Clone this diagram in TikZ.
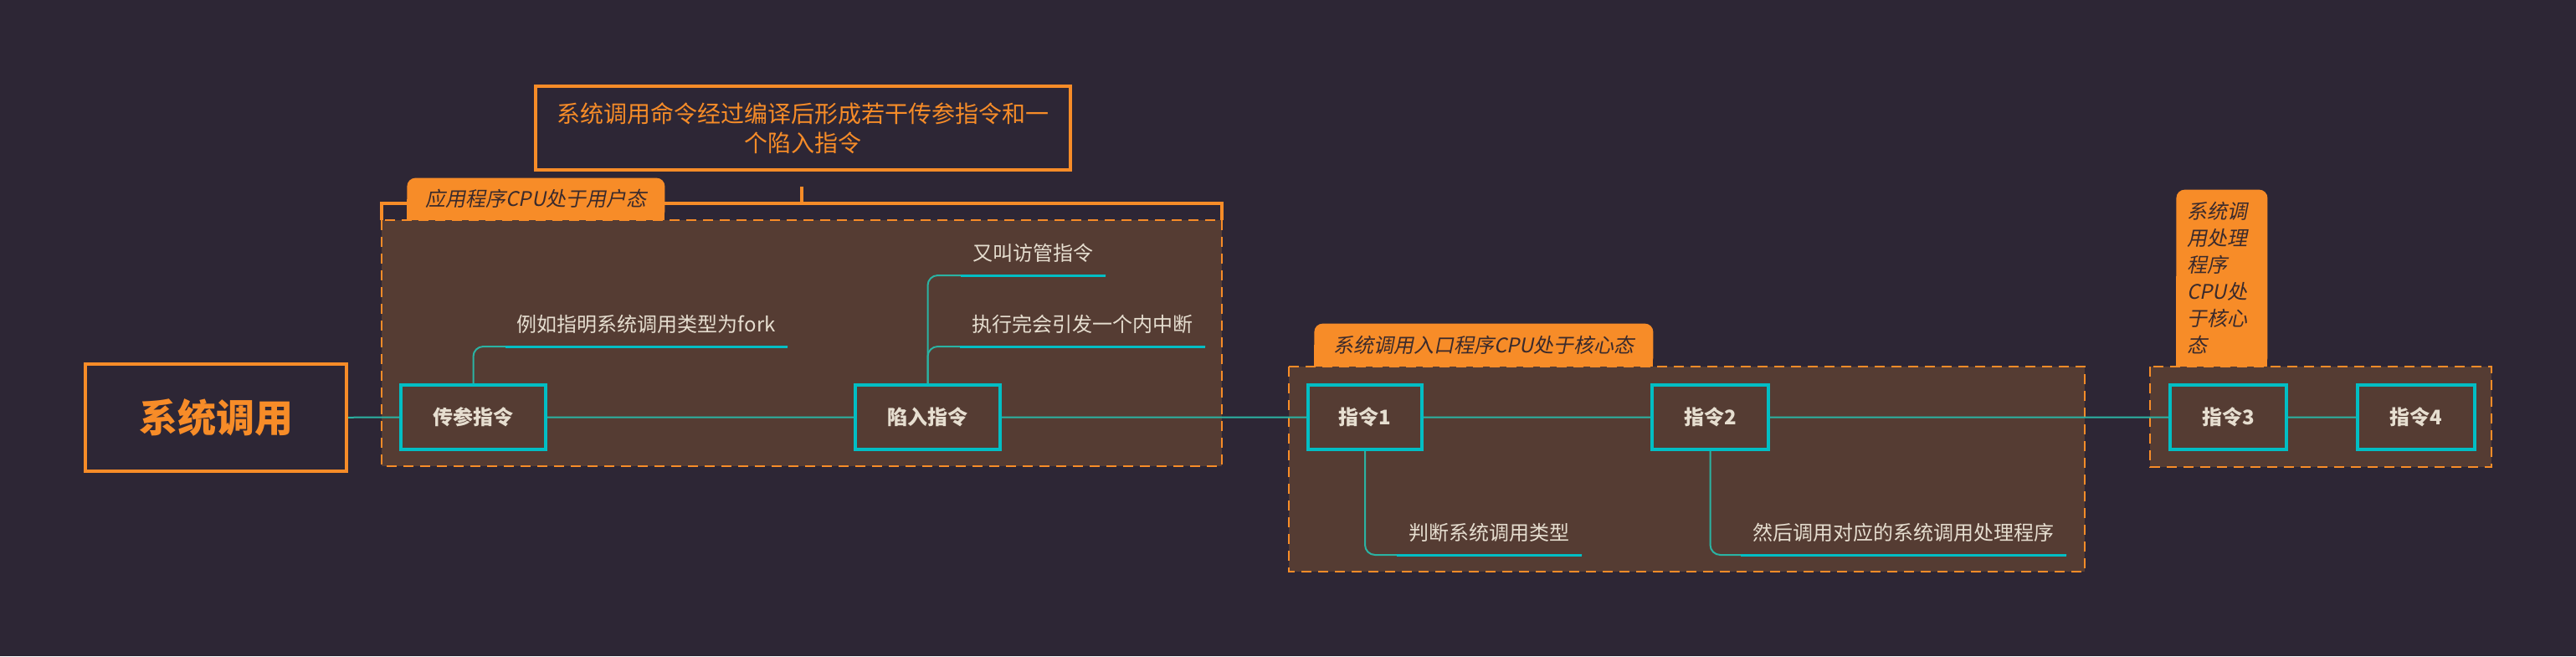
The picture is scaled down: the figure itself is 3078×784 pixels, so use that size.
\documentclass[tikz,border=0pt]{standalone}
\usepackage{xcolor}
\usepackage{fontspec}
\setmainfont{Noto Sans CJK SC}
\newfontfamily\slantfont[FakeSlant=0.2]{Noto Sans CJK SC}
\usepackage{tikz}
\definecolor{bgcol}{HTML}{2D2635}
\definecolor{boxcol}{HTML}{553C33}
\definecolor{orangecol}{HTML}{F78C28}
\definecolor{cyancol}{HTML}{00BEC4}
\definecolor{linkcol}{HTML}{2BB3A3}
\definecolor{textcol}{HTML}{E6DED0}
\definecolor{tabtext}{HTML}{3A2A2C}

\begin{document}
\begin{tikzpicture}[x=0.5pt,y=-0.5pt,
    group/.style={fill=boxcol,draw=orangecol,line width=1pt,dash pattern=on 6pt off 4pt},
    bracket/.style={draw=orangecol,line width=2pt},
    tab/.style={fill=orangecol,rounded corners=5pt,anchor=south west,inner sep=0pt,text=tabtext,font=\slantfont\fontsize{12}{16}\selectfont},
    instr/.style={draw=cyancol,fill=boxcol,line width=2pt,minimum height=38.5pt,text=textcol,font=\bfseries\fontsize{12}{14}\selectfont},
    leaf/.style={anchor=south east,inner xsep=7pt,inner ysep=5.5pt,text depth=3pt,text=textcol,font=\fontsize{12}{14}\selectfont},
    stem/.style={draw=linkcol,line width=1pt,rounded corners=6pt},
    uline/.style={draw=cyancol,line width=1.5pt},
    trunk/.style={draw=linkcol,line width=1pt}]
                      \fill[bgcol] (0,0) rectangle (3078,784);
                      \useasboundingbox (0,0) rectangle (3078,784);

                      \begin{scope}
                        \draw[group] (456,263) rectangle (1460,557);
                        \draw[group] (1540,438) rectangle (2491,683);
                        \draw[group] (2569,438) rectangle (2977,558);
                        \coordinate (brk) at (958,243);
                        \coordinate (brktop) at (958,223);
                        \draw[bracket] (456,263) -- (456,243) -- (1460,243) -- (1460,263);
                        \draw[bracket] (brk) -- (brktop);
                      \end{scope}

                      \begin{scope}
                        \fill[orangecol] (486,238) rectangle (794,263);
                        \node[tab,minimum width=154pt,minimum height=25pt] (tab1) at (486,263) {应用程序CPU处于用户态};
                        \fill[orangecol] (1570,412) rectangle (1975,438);
                        \node[tab,minimum width=202.5pt,minimum height=25.5pt] (tab2) at (1570,438) {系统调用入口程序CPU处于核心态};
                        \fill[orangecol] (2600,330) rectangle (2709,438);
                        \node[tab,minimum width=54.5pt,minimum height=105.5pt,inner xsep=6.5pt,text width=41.5pt,align=left] (tab3) at (2600,438) {系统调\\用处理\\程序\\CPU处\\于核心\\态};
                      \end{scope}

                      \node[draw=orangecol,line width=2pt,minimum width=156pt,minimum height=64pt,text=orangecol,font=\bfseries\fontsize{23}{28}\selectfont] (root) at (258,499) {系统调用};
                      \node[draw=orangecol,line width=2pt,minimum width=319.5pt,minimum height=50pt,align=center,text=orangecol,font=\fontsize{14}{17.5}\selectfont] (note) at (959.5,153) {系统调用命令经过编译后形成若干传参指令和一\\个陷入指令};

                      \node[instr,minimum width=86.5pt] (pass) at (565.5,498.5) {传参指令};
                      \node[instr,minimum width=86.5pt] (trap) at (1108.5,498.5) {陷入指令};
                      \node[instr,minimum width=68pt] (ins1) at (1631,498.5) {指令1};
                      \node[instr,minimum width=69.5pt] (ins2) at (2043.5,498.5) {指令2};
                      \node[instr,minimum width=69.5pt] (ins3) at (2662.5,498.5) {指令3};
                      \node[instr,minimum width=70pt] (ins4) at (2887,498.5) {指令4};

                      \node[leaf] (forkleaf) at (941,414) {例如指明系统调用类型为fork};
                      \node[leaf] (svcleaf) at (1321,329) {又叫访管指令};
                      \node[leaf] (intleaf) at (1440,414) {执行完会引发一个内中断};
                      \node[leaf] (typeleaf) at (1890,663) {判断系统调用类型};
                      \node[leaf] (handleaf) at (2469,663) {然后调用对应的系统调用处理程序};

                      \draw[trunk] (root) -- (pass) -- (trap) -- (ins1) -- (ins2) -- (ins3) -- (ins4);
                      \draw[stem] (pass.north) |- (forkleaf.south east);
                      \draw[stem] (trap.north) |- (svcleaf.south east);
                      \draw[stem] (trap.north) |- (intleaf.south east);
                      \draw[stem] (ins1.south) |- (typeleaf.south east);
                      \draw[stem] (ins2.south) |- (handleaf.south east);
                      \draw[uline] (forkleaf.south west) -- (forkleaf.south east);
                      \draw[uline] (svcleaf.south west) -- (svcleaf.south east);
                      \draw[uline] (intleaf.south west) -- (intleaf.south east);
                      \draw[uline] (typeleaf.south west) -- (typeleaf.south east);
                      \draw[uline] (handleaf.south west) -- (handleaf.south east);
                    \end{tikzpicture}
\end{document}
